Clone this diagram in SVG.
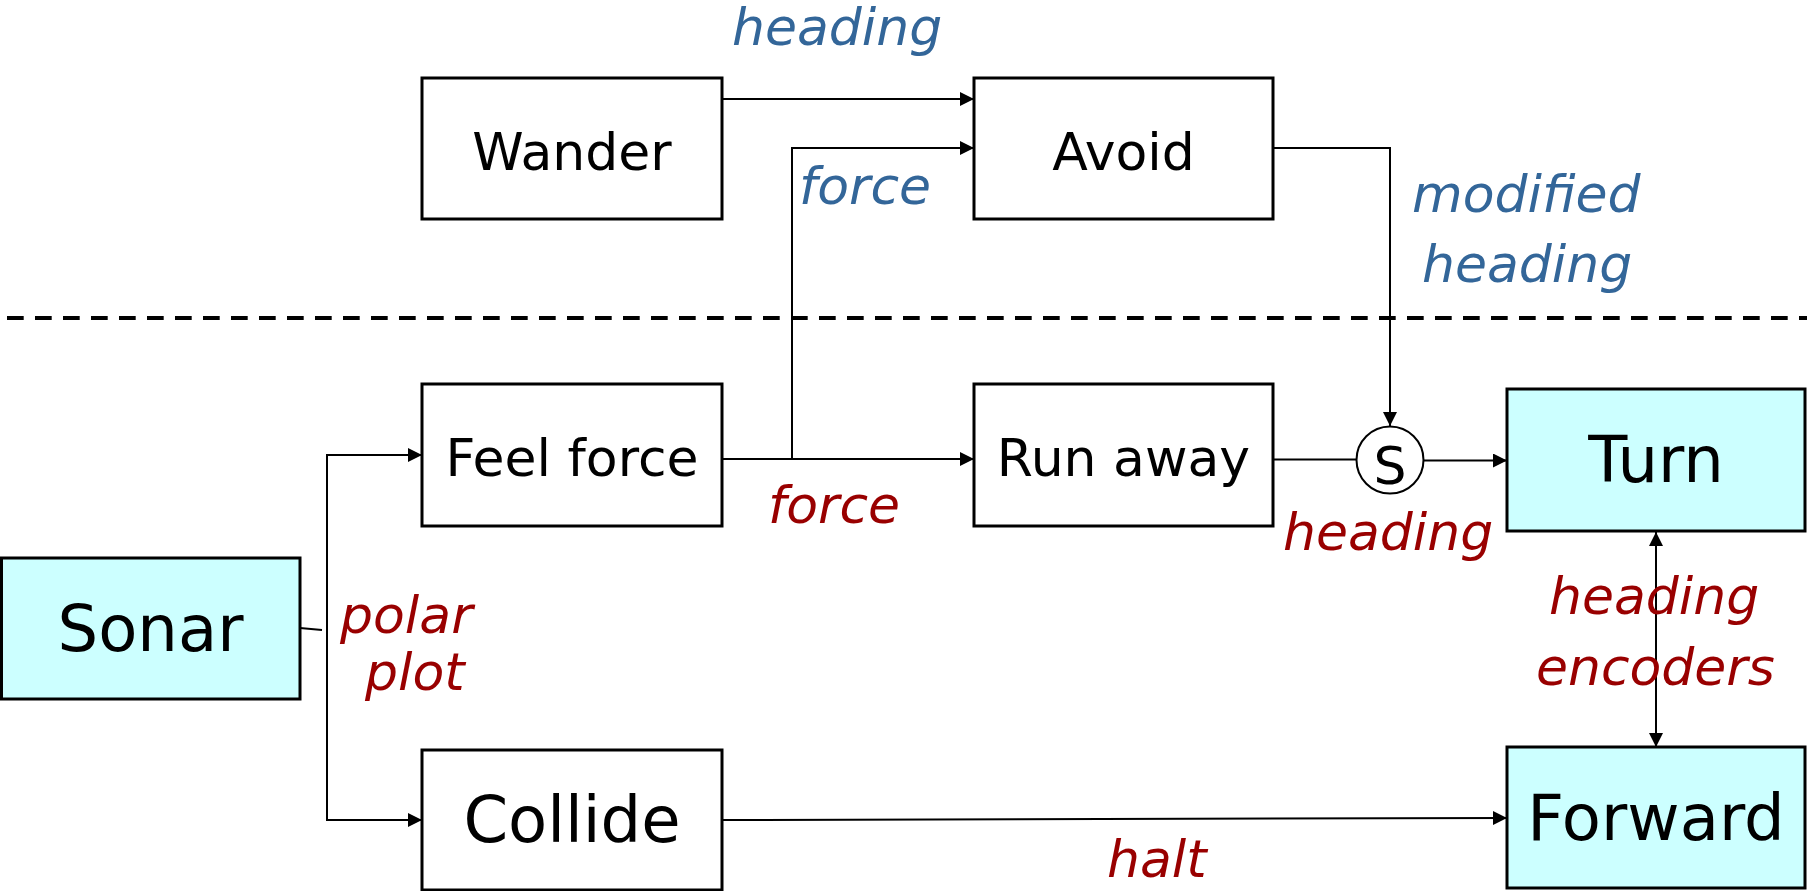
<svg xmlns="http://www.w3.org/2000/svg" width="1807" height="891" viewBox="0 0 1807 891">
<style>
.box{fill:#ffffff;stroke:#000;stroke-width:3}
.hw{fill:#ccffff;stroke:#000;stroke-width:3}
.nt{font-family:"DejaVu Sans","Liberation Sans",sans-serif;font-size:52px;fill:#000;text-anchor:middle}
.big{font-size:64px}
.lb{font-family:"DejaVu Sans","Liberation Sans",sans-serif;font-size:52px;font-style:italic}
.blue{fill:#336699}
.red{fill:#990000}
.ln{fill:none;stroke:#000;stroke-width:2}
</style>
<defs>
<marker id="arr" viewBox="0 0 14 14" refX="14" refY="7" markerWidth="14" markerHeight="14" markerUnits="userSpaceOnUse" orient="auto-start-reverse">
<path d="M0,0 L14,7 L0,14 Z" fill="#000"/>
</marker>
</defs>
<rect width="1807" height="891" fill="#ffffff"/>
<line x1="7" y1="318" x2="1807" y2="318" stroke="#000" stroke-width="4" stroke-dasharray="16.7 11.3"/>
<g id="connectors">
<polyline class="ln" points="722,99 974,99" marker-end="url(#arr)"/>
<polyline class="ln" points="722,459 974,459" marker-end="url(#arr)"/>
<polyline class="ln" points="792,459 792,148 974,148" marker-end="url(#arr)"/>
<polyline class="ln" points="1273,148 1390,148 1390,426" marker-end="url(#arr)"/>
<polyline class="ln" points="1273,459.5 1357,459.5"/>
<polyline class="ln" points="1423,460.5 1507,460.5" marker-end="url(#arr)"/>
<polyline class="ln" points="300,628 322,630"/>
<polyline class="ln" points="422,455 327,455 327,820 422,820" marker-start="url(#arr)" marker-end="url(#arr)"/>
<polyline class="ln" points="722,820 1507,818" marker-end="url(#arr)"/>
<polyline class="ln" points="1656,532 1656,747" marker-start="url(#arr)" marker-end="url(#arr)"/>
</g>
<g id="wander"><rect class="box" x="422" y="78" width="300" height="141"/><text class="nt" x="572" y="170">Wander</text></g>
<g id="avoid"><rect class="box" x="974" y="78" width="299" height="141"/><text class="nt" x="1123.5" y="170">Avoid</text></g>
<g id="feelforce"><rect class="box" x="422" y="384" width="300" height="142"/><text class="nt" x="572" y="476">Feel force</text></g>
<g id="runaway"><rect class="box" x="974" y="384" width="299" height="142"/><text class="nt" x="1123.5" y="476">Run away</text></g>
<g id="collide"><rect class="box" x="422" y="750" width="300" height="140"/><text class="nt big" x="572" y="842">Collide</text></g>
<g id="sonar"><rect class="hw" x="1.5" y="558" width="298.5" height="141"/><text class="nt big" x="150.5" y="651">Sonar</text></g>
<g id="turn"><rect class="hw" x="1507" y="389" width="298" height="142"/><text class="nt big" x="1656" y="482">Turn</text></g>
<g id="forward"><rect class="hw" x="1507" y="747" width="298" height="141"/><text class="nt big" x="1656" y="840">Forward</text></g>
<g id="suppress"><circle cx="1390" cy="460" r="33.5" fill="#fff" stroke="#000" stroke-width="2"/><text class="nt" x="1390" y="484" font-size="60">S</text></g>
<g id="labels">
<text class="lb blue" x="732" y="45">heading</text>
<text class="lb blue" x="799" y="204">force</text>
<text class="lb blue" x="1412" y="212">modified</text>
<text class="lb blue" x="1422" y="282">heading</text>
<text class="lb red" x="768" y="523">force</text>
<text class="lb red" x="1283" y="550">heading</text>
<text class="lb red" x="340" y="633">polar</text>
<text class="lb red" x="365" y="690">plot</text>
<text class="lb red" x="1549" y="614">heading</text>
<text class="lb red" x="1536" y="685">encoders</text>
<text class="lb red" x="1107" y="877">halt</text>
</g>
</svg>
